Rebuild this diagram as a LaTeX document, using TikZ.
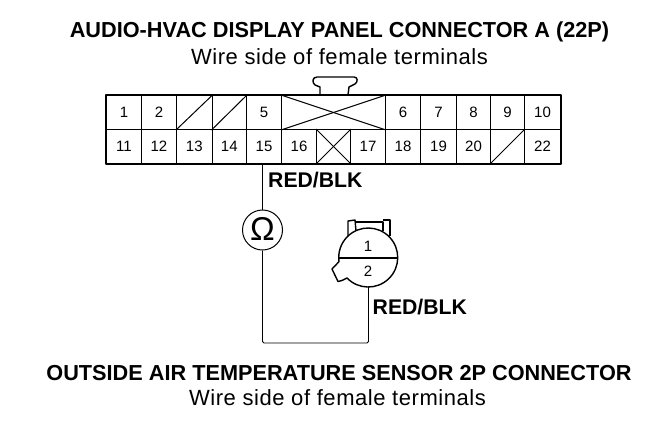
\documentclass[tikz,border=0pt]{standalone}
\usepackage{fontspec}
\setmainfont{Liberation Sans}
\newfontfamily\subfont[LetterSpace=2.5]{Liberation Sans}
\tikzset{
  title/.style={font=\bfseries\fontsize{21.7}{24}\selectfont,inner sep=0pt,anchor=base},
  sub/.style={font=\subfont\fontsize{22}{24}\selectfont,inner sep=0pt,anchor=base},
  wirelabel/.style={font=\bfseries\fontsize{21.2}{24}\selectfont,inner sep=0pt,anchor=base west},
  cell/.style={draw=black,line width=1pt,rectangle,inner sep=0pt,anchor=north west,font=\fontsize{15}{17}\selectfont},
  frame/.style={draw=black,line width=2pt,line join=round},
  slash/.style={draw=black,line width=1pt},
  wire/.style={draw=black,line width=0.9pt,rounded corners=1.5pt},
  outline/.style={draw=black,line width=1.4pt,line join=round},
}
\newcommand{\cellat}[6]{\node[cell,minimum width=#4pt,minimum height=#5pt] (#1) at (#2,#3) {#6};}
\begin{document}
\begin{tikzpicture}[x=1pt,y=-1pt]
\useasboundingbox (0,0) rectangle (672,424);
\node[title] (t1) at (339.5,37.5) {AUDIO-HVAC DISPLAY PANEL CONNECTOR A (22P)};
\node[sub] (t2) at (339.5,64) {Wire side of female terminals};
\node[title] (t3) at (339,380) {OUTSIDE AIR TEMPERATURE SENSOR 2P CONNECTOR};
\node[sub] (t4) at (337.5,405) {Wire side of female terminals};
% top row
\cellat{c1}{106}{95}{35}{34}{1}
\cellat{c2}{141}{95}{35}{34}{2}
\cellat{c3}{176}{95}{35.5}{34}{}
\cellat{c4}{211.5}{95}{34.5}{34}{}
\cellat{c5}{246}{95}{35}{34}{5}
\cellat{cx}{281}{95}{104}{34}{}
\cellat{c6}{385}{95}{35}{34}{6}
\cellat{c7}{420}{95}{36}{34}{7}
\cellat{c8}{456}{95}{34}{34}{8}
\cellat{c9}{490}{95}{34}{34}{9}
\cellat{c10}{524}{95}{36}{34}{10}
% bottom row
\cellat{c11}{106}{129}{35}{34}{11}
\cellat{c12}{141}{129}{35}{34}{12}
\cellat{c13}{176}{129}{35.5}{34}{13}
\cellat{c14}{211.5}{129}{34.5}{34}{14}
\cellat{c15}{246}{129}{35}{34}{15}
\cellat{c16}{281}{129}{35}{34}{16}
\cellat{cy}{316}{129}{34}{34}{}
\cellat{c17}{350}{129}{35}{34}{17}
\cellat{c18}{385}{129}{35}{34}{18}
\cellat{c19}{420}{129}{36}{34}{19}
\cellat{c20}{456}{129}{34}{34}{20}
\cellat{c21}{490}{129}{34}{34}{}
\cellat{c22}{524}{129}{36}{34}{22}
% blanked cells
\draw[slash] (c3.south west) -- (c3.north east);
\draw[slash] (c4.south west) -- (c4.north east);
\draw[slash] (c21.south west) -- (c21.north east);
\draw[slash] (cx.north west) -- (cx.south east);
\draw[slash] (cx.south west) -- (cx.north east);
\draw[slash] (cy.north west) -- (cy.south east);
\draw[slash] (cy.south west) -- (cy.north east);
% frame
\draw[frame] (c1.north west) rectangle (c22.south east);
% latch
\draw[outline] (320,95) -- (320,87) -- (315,85) .. controls (312,83) and (312,77) .. (317,77)
  -- (354,77) .. controls (358,77) and (358,82) .. (355,84) -- (349,87) -- (348,95);
% ohmmeter
\node[draw=black,line width=1pt,circle,minimum size=40pt,inner sep=0pt] (ohm) at (262.5,230) {};
\node[inner sep=0pt,font=\fontsize{33}{34}\selectfont] (ohmsym) at (262.5,229) {Ω};
% sensor
\coordinate (sl) at (338.5,258);
\coordinate (sr) at (398,258);
\coordinate (sb) at (368.5,287);
\draw[outline] (347,278) arc[start angle=224,end angle=548,radius=29.5pt]
  -- (332,269) -- (338,281.5) -- (342,280.5) -- cycle;
\draw[outline] (sl) -- (sr);
\draw[outline] (348,236) -- (348,221) -- (355,220) -- (356,231);
\draw[outline] (356,222) -- (383,222) -- (383,231);
\draw[outline] (383,220) -- (390,220) -- (390,236);
\node[inner sep=0pt,font=\fontsize{15}{17}\selectfont] (s1) at (368,246) {1};
\node[inner sep=0pt,font=\fontsize{15}{17}\selectfont] (s2) at (368,271) {2};
% wires
\draw[wire] (ohm.north |- c15.south) -- (ohm.north);
\draw[wire] (ohm.south) -- (ohm.south |- 0,343) -- (sb |- 0,343) -- (sb);
\node[wirelabel] (l1) at (268,187.5) {RED/BLK};
\node[wirelabel] (l2) at (372.5,314) {RED/BLK};
\end{tikzpicture}
\end{document}
